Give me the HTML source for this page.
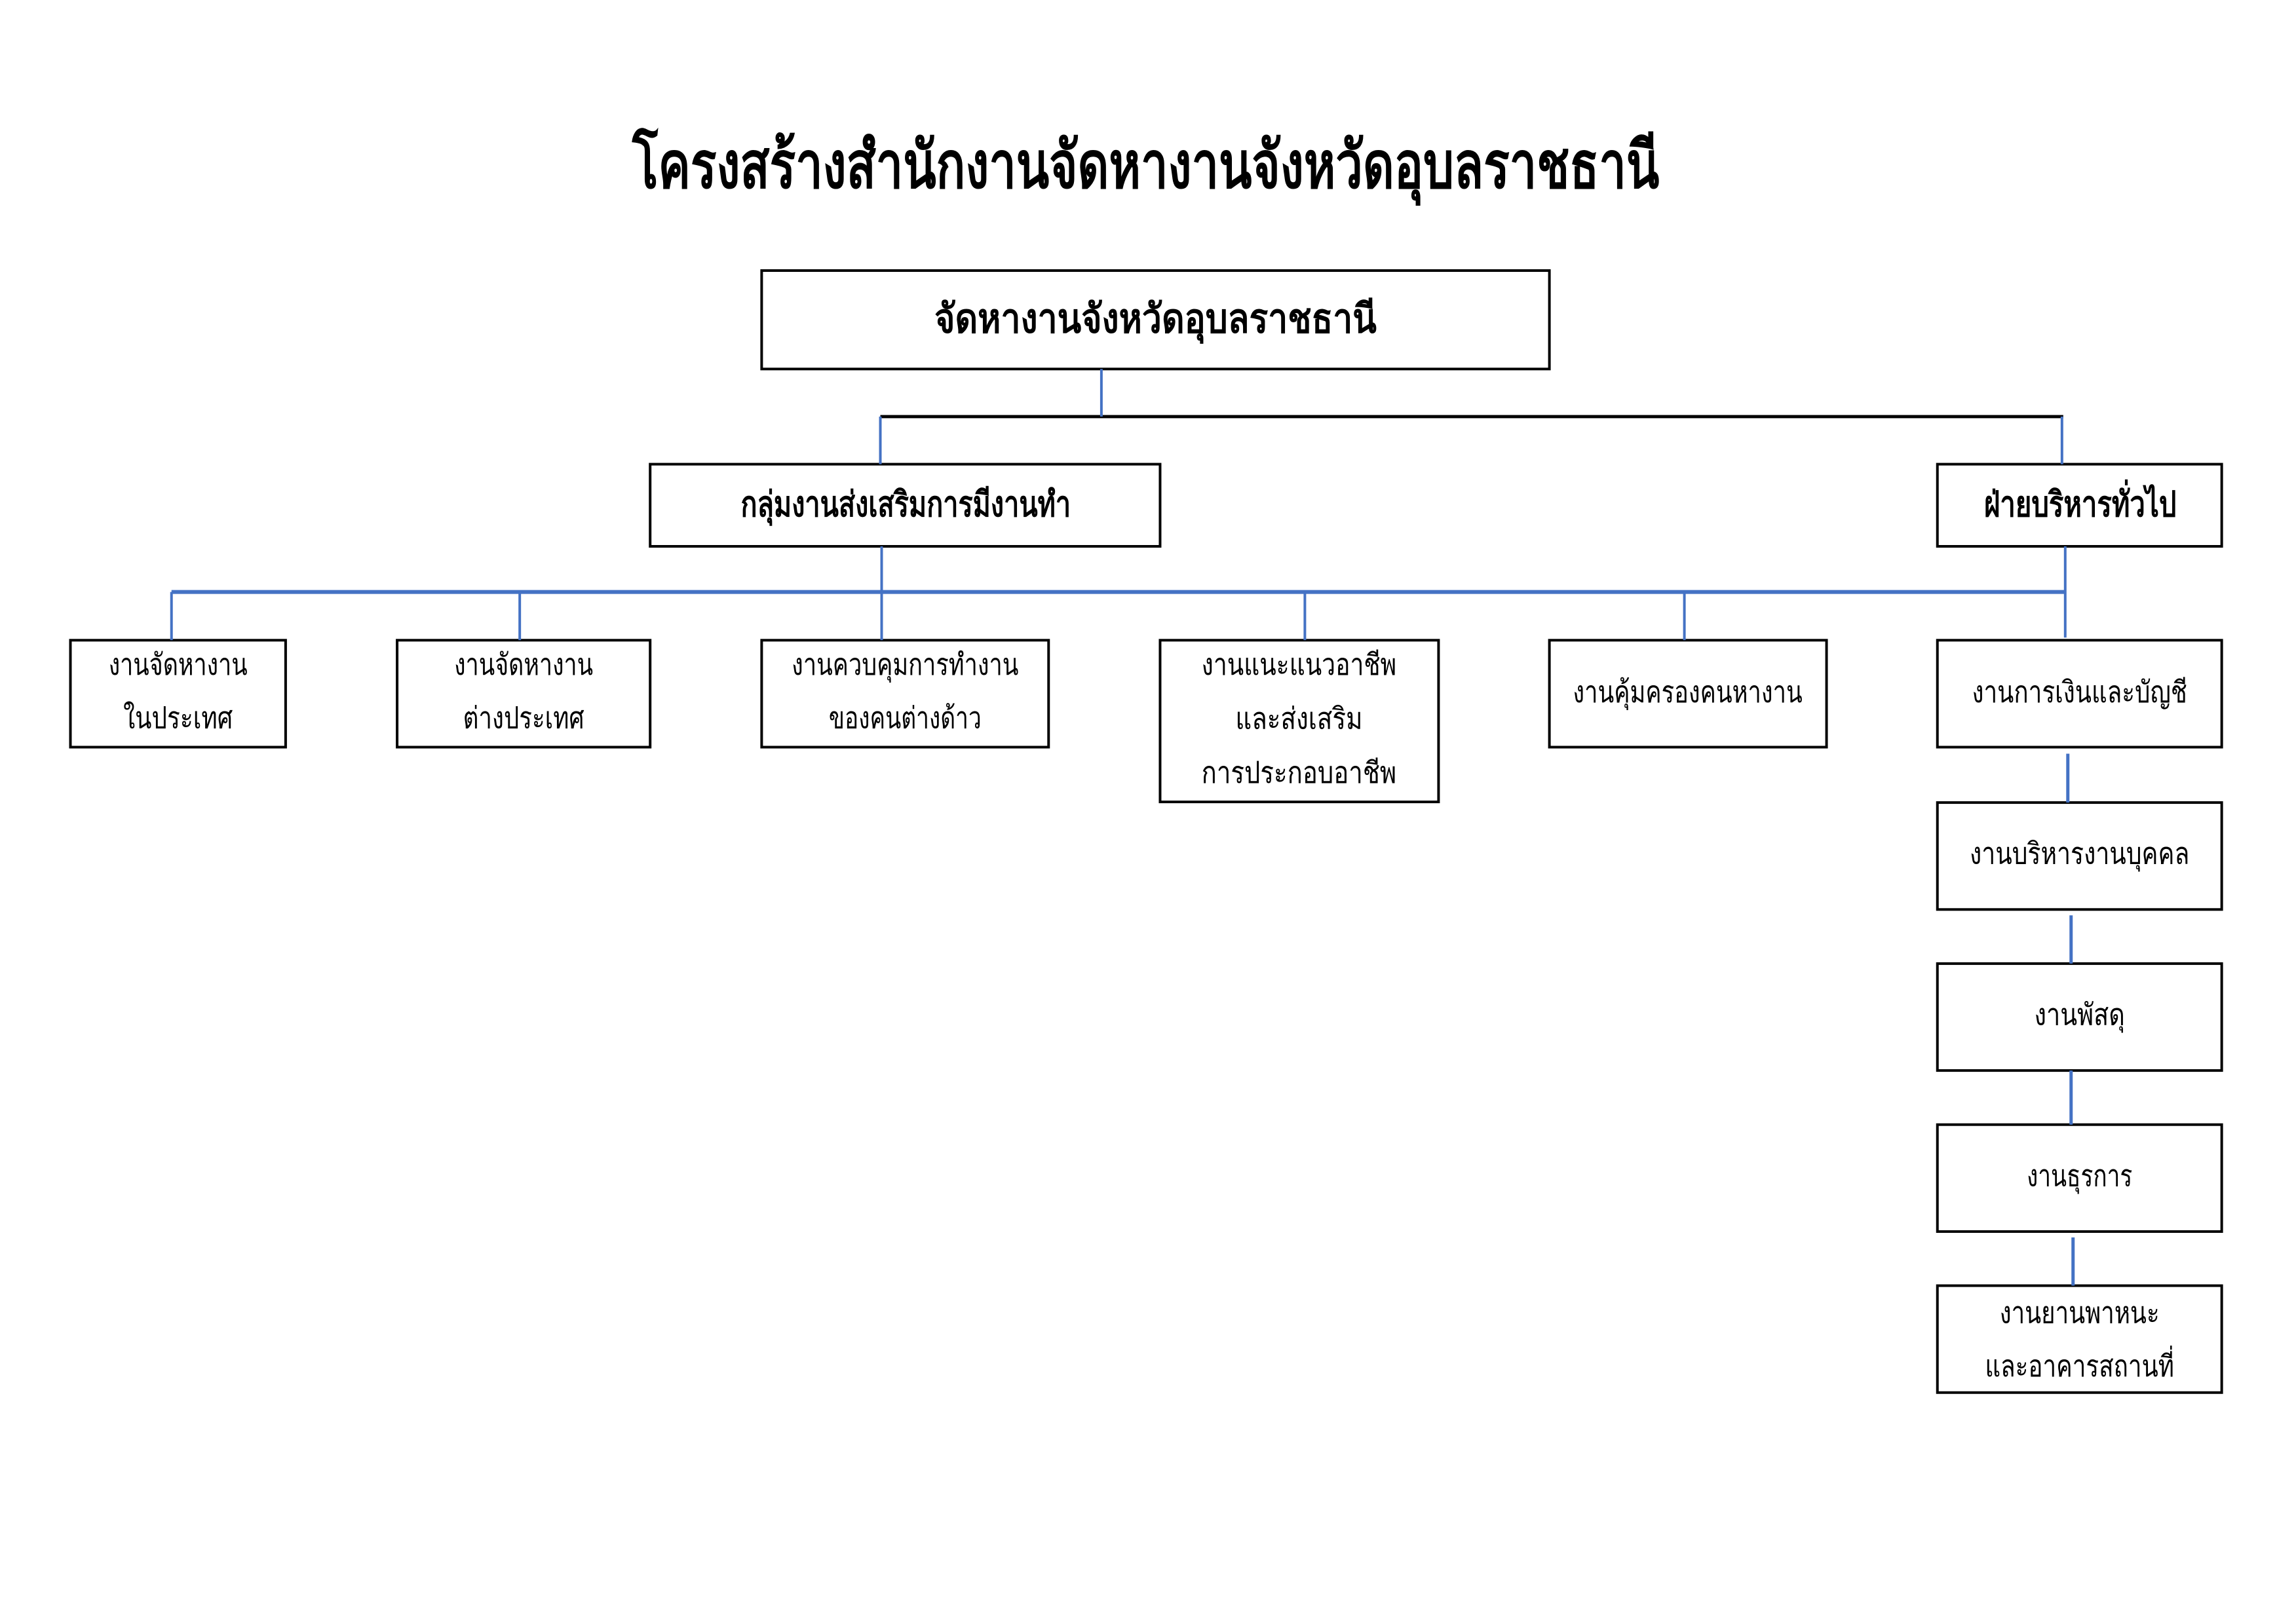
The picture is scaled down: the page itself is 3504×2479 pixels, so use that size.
<!DOCTYPE html>
<html><head><meta charset="utf-8"><style>
html,body{margin:0;padding:0;background:#fff;}
svg{display:block;}
text{font-family:"Liberation Serif","DejaVu Serif",serif;fill:#000;text-anchor:middle;}
.b{font-weight:bold;}
</style></head><body>
<svg width="3504" height="2479" viewBox="0 0 3504 2479" xmlns="http://www.w3.org/2000/svg">
<rect width="3504" height="2479" fill="#fff"/>
<g transform="scale(0.9952)">
<text class="b" x="1757" y="288" font-size="100" textLength="1575" lengthAdjust="spacingAndGlyphs">โครงสร้างสำนักงานจัดหางานจังหวัดอุบลราชธานี</text>

<g fill="none" stroke="#000" stroke-width="4">
<rect x="1168" y="415" width="1208" height="151"/>
<rect x="997" y="712" width="782" height="126"/>
<rect x="2971" y="712" width="436" height="126"/>
<rect x="108" y="982" width="330" height="164"/>
<rect x="609" y="982" width="388" height="164"/>
<rect x="1168" y="982" width="440" height="164"/>
<rect x="1779" y="982" width="427" height="248"/>
<rect x="2376" y="982" width="425" height="164"/>
<rect x="2971" y="982" width="436" height="164"/>
<rect x="2971" y="1231" width="436" height="164"/>
<rect x="2971" y="1478" width="436" height="164"/>
<rect x="2971" y="1725" width="436" height="164"/>
<rect x="2971" y="1972" width="436" height="164"/>
</g>
<line x1="1350" y1="639" x2="3164" y2="639" stroke="#000" stroke-width="5"/>
<g stroke="#4472C4" stroke-width="4">
<line x1="1689" y1="566" x2="1689" y2="639"/>
<line x1="1350" y1="639" x2="1350" y2="712"/>
<line x1="3162" y1="639" x2="3162" y2="712"/>
<line x1="263" y1="908" x2="3167" y2="908" stroke-width="6"/>
<line x1="1352" y1="838" x2="1352" y2="982"/>
<line x1="3167" y1="838" x2="3167" y2="978"/>
<line x1="263" y1="908" x2="263" y2="982"/>
<line x1="797" y1="908" x2="797" y2="982"/>
<line x1="2001" y1="908" x2="2001" y2="982"/>
<line x1="2583" y1="908" x2="2583" y2="982"/>
<line x1="3171" y1="1156" x2="3171" y2="1231" stroke-width="5"/>
<line x1="3176" y1="1404" x2="3176" y2="1478" stroke-width="5"/>
<line x1="3176" y1="1642" x2="3176" y2="1725" stroke-width="5"/>
<line x1="3179" y1="1898" x2="3179" y2="1972" stroke-width="5"/>
</g>

<text class="b" x="1772" y="510" font-size="62" textLength="678" lengthAdjust="spacingAndGlyphs">จัดหางานจังหวัดอุบลราชธานี</text>
<text class="b" x="1389" y="792" font-size="54" textLength="506" lengthAdjust="spacingAndGlyphs">กลุ่มงานส่งเสริมการมีงานทำ</text>
<text class="b" x="3190" y="792" font-size="54" textLength="295" lengthAdjust="spacingAndGlyphs">ฝ่ายบริหารทั่วไป</text>

<g font-size="46">
<text x="273" y="1035" textLength="213" lengthAdjust="spacingAndGlyphs">งานจัดหางาน</text>
<text x="273" y="1117" textLength="168" lengthAdjust="spacingAndGlyphs">ในประเทศ</text>
<text x="803" y="1035" textLength="213" lengthAdjust="spacingAndGlyphs">งานจัดหางาน</text>
<text x="803" y="1117" textLength="186" lengthAdjust="spacingAndGlyphs">ต่างประเทศ</text>
<text x="1388" y="1035" textLength="348" lengthAdjust="spacingAndGlyphs">งานควบคุมการทำงาน</text>
<text x="1388" y="1117" textLength="234" lengthAdjust="spacingAndGlyphs">ของคนต่างด้าว</text>
<text x="1992" y="1035" textLength="299" lengthAdjust="spacingAndGlyphs">งานแนะแนวอาชีพ</text>
<text x="1992" y="1118" textLength="195" lengthAdjust="spacingAndGlyphs">และส่งเสริม</text>
<text x="1992" y="1201" textLength="299" lengthAdjust="spacingAndGlyphs">การประกอบอาชีพ</text>
<text x="2588" y="1077" textLength="352" lengthAdjust="spacingAndGlyphs">งานคุ้มครองคนหางาน</text>
<text x="3189" y="1077" textLength="330" lengthAdjust="spacingAndGlyphs">งานการเงินและบัญชี</text>
<text x="3189" y="1325" textLength="337" lengthAdjust="spacingAndGlyphs">งานบริหารงานบุคคล</text>
<text x="3189" y="1572" textLength="139" lengthAdjust="spacingAndGlyphs">งานพัสดุ</text>
<text x="3189" y="1819" textLength="162" lengthAdjust="spacingAndGlyphs">งานธุรการ</text>
<text x="3189" y="2029" textLength="245" lengthAdjust="spacingAndGlyphs">งานยานพาหนะ</text>
<text x="3189" y="2111" textLength="290" lengthAdjust="spacingAndGlyphs">และอาคารสถานที่</text>
</g>
</g>
</svg>
</body></html>
